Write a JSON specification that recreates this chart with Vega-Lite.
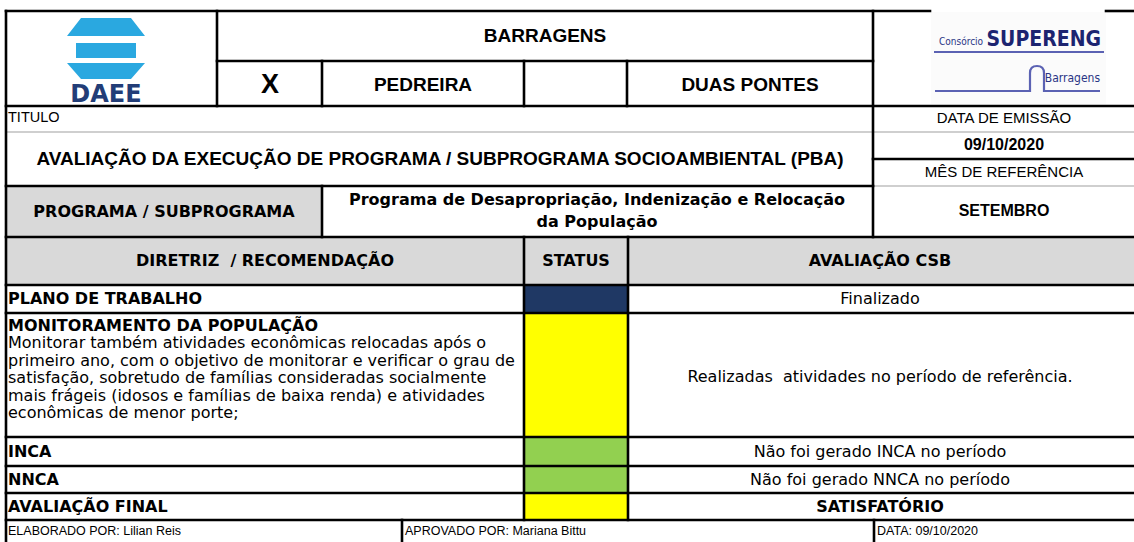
{
  "$schema": "https://vega.github.io/schema/vega-lite/v6.json",
  "width": 1134,
  "height": 542,
  "padding": 0,
  "autosize": {"type": "none"},
  "background": "white",
  "config": {"view": {"stroke": null}},
  "datasets": {
    "fills": [
      {"kind": "logo", "x": 931, "x2": 1106, "y": 12, "y2": 104},
      {"kind": "cabecalho", "x": 6, "x2": 322, "y": 186, "y2": 237},
      {"kind": "cabecalho", "x": 6, "x2": 1134, "y": 237, "y2": 285},
      {"kind": "finalizado", "x": 524, "x2": 628, "y": 285, "y2": 313},
      {"kind": "em andamento", "x": 524, "x2": 628, "y": 313, "y2": 437},
      {"kind": "sem ocorrência", "x": 524, "x2": 628, "y": 437, "y2": 466},
      {"kind": "sem ocorrência", "x": 524, "x2": 628, "y": 466, "y2": 493},
      {"kind": "em andamento", "x": 524, "x2": 628, "y": 493, "y2": 520}
    ],
    "grayLines": [
      {"x": 6, "x2": 1134, "y": 132, "y2": 132},
      {"x": 873, "x2": 1134, "y": 186, "y2": 186}
    ],
    "lines": [
      {"x": 6, "x2": 930, "y": 11, "y2": 11},
      {"x": 1106, "x2": 1134, "y": 11, "y2": 11},
      {"x": 217, "x2": 873, "y": 61, "y2": 61},
      {"x": 6, "x2": 1134, "y": 106, "y2": 106},
      {"x": 873, "x2": 1134, "y": 159, "y2": 159},
      {"x": 6, "x2": 873, "y": 186, "y2": 186},
      {"x": 6, "x2": 1134, "y": 237, "y2": 237},
      {"x": 6, "x2": 1134, "y": 285, "y2": 285},
      {"x": 6, "x2": 1134, "y": 313, "y2": 313},
      {"x": 6, "x2": 1134, "y": 437, "y2": 437},
      {"x": 6, "x2": 1134, "y": 466, "y2": 466},
      {"x": 6, "x2": 1134, "y": 493, "y2": 493},
      {"x": 6, "x2": 1134, "y": 520, "y2": 520},
      {"x": 6, "x2": 6, "y": 11, "y2": 542},
      {"x": 217, "x2": 217, "y": 11, "y2": 106},
      {"x": 322, "x2": 322, "y": 61, "y2": 106},
      {"x": 524, "x2": 524, "y": 61, "y2": 106},
      {"x": 627, "x2": 627, "y": 61, "y2": 106},
      {"x": 873, "x2": 873, "y": 11, "y2": 237},
      {"x": 322, "x2": 322, "y": 186, "y2": 237},
      {"x": 524, "x2": 524, "y": 237, "y2": 520},
      {"x": 628, "x2": 628, "y": 237, "y2": 520},
      {"x": 402, "x2": 402, "y": 520, "y2": 542},
      {"x": 874, "x2": 874, "y": 520, "y2": 542}
    ],
    "texts": [
      {"role": "hb", "text": "BARRAGENS", "x": 545, "y": 36},
      {"role": "hb", "text": "PEDREIRA", "x": 423, "y": 85},
      {"role": "hb", "text": "DUAS PONTES", "x": 750, "y": 85},
      {"role": "hx", "text": "X", "x": 270, "y": 85},
      {"role": "hb", "text": "AVALIAÇÃO DA EXECUÇÃO DE PROGRAMA / SUBPROGRAMA SOCIOAMBIENTAL (PBA)", "x": 440, "y": 159},
      {"role": "sl", "text": "TITULO", "x": 8, "y": 118},
      {"role": "sc", "text": "DATA DE EMISSÃO", "x": 1004, "y": 118},
      {"role": "sb", "text": "09/10/2020", "x": 1004, "y": 145},
      {"role": "sc", "text": "MÊS DE REFERÊNCIA", "x": 1004, "y": 172},
      {"role": "sb", "text": "SETEMBRO", "x": 1004, "y": 211},
      {"role": "tb", "text": "PROGRAMA / SUBPROGRAMA", "x": 164, "y": 211.5},
      {"role": "tb", "text": "Programa de Desapropriação, Indenização e Relocação", "x": 597, "y": 200},
      {"role": "tb", "text": "da População", "x": 597, "y": 221.5},
      {"role": "tb", "text": "DIRETRIZ \u00a0/ RECOMENDAÇÃO", "x": 265, "y": 261},
      {"role": "tb", "text": "STATUS", "x": 576, "y": 261},
      {"role": "tb", "text": "AVALIAÇÃO CSB", "x": 880, "y": 261},
      {"role": "tbl", "text": "PLANO DE TRABALHO", "x": 8, "y": 299},
      {"role": "tn", "text": "Finalizado", "x": 880, "y": 299},
      {"role": "tbl", "text": "MONITORAMENTO DA POPULAÇÃO", "x": 8, "y": 326},
      {"role": "tnl", "text": "Monitorar também atividades econômicas relocadas após o", "x": 8, "y": 343.4},
      {"role": "tnl", "text": "primeiro ano, com o objetivo de monitorar e verificar o grau de", "x": 8, "y": 360.8},
      {"role": "tnl", "text": "satisfação, sobretudo de famílias consideradas socialmente", "x": 8, "y": 378.2},
      {"role": "tnl", "text": "mais frágeis (idosos e famílias de baixa renda) e atividades", "x": 8, "y": 395.6},
      {"role": "tnl", "text": "econômicas de menor porte;", "x": 8, "y": 413},
      {"role": "tn", "text": "Realizadas \u00a0atividades no período de referência.", "x": 880, "y": 377},
      {"role": "tbl", "text": "INCA", "x": 8, "y": 451.5},
      {"role": "tn", "text": "Não foi gerado INCA no período", "x": 880, "y": 451.5},
      {"role": "tbl", "text": "NNCA", "x": 8, "y": 479.5},
      {"role": "tn", "text": "Não foi gerado NNCA no período", "x": 880, "y": 479.5},
      {"role": "tbl", "text": "AVALIAÇÃO FINAL", "x": 8, "y": 506.5},
      {"role": "tb", "text": "SATISFATÓRIO", "x": 880, "y": 506.5},
      {"role": "ft", "text": "ELABORADO POR: Lilian Reis", "x": 8, "y": 531},
      {"role": "ft", "text": "APROVADO POR: Mariana Bittu", "x": 405, "y": 531},
      {"role": "ft", "text": "DATA: 09/10/2020", "x": 877, "y": 531}
    ]
  },
  "encoding": {
    "x": {"field": "x", "type": "quantitative", "scale": {"domain": [0, 1134], "nice": false, "zero": false}, "axis": null},
    "y": {"field": "y", "type": "quantitative", "scale": {"domain": [0, 542], "nice": false, "zero": false, "reverse": true}, "axis": null}
  },
  "layer": [
    {
      "data": {"name": "fills"},
      "mark": {"type": "rect", "strokeWidth": 0},
      "encoding": {
        "x2": {"field": "x2"},
        "y2": {"field": "y2"},
        "color": {"field": "kind", "type": "nominal", "legend": null,
          "scale": {"domain": ["logo", "cabecalho", "finalizado", "em andamento", "sem ocorrência"], "range": ["#fbfbfb", "#d9d9d9", "#1f3864", "#ffff00", "#92d050"]}}
      }
    },
    {
      "data": {"name": "grayLines"},
      "mark": {"type": "rule", "strokeWidth": 2, "color": "#cfcfcf"},
      "encoding": {"x2": {"field": "x2"}, "y2": {"field": "y2"}}
    },
    {
      "data": {"name": "lines"},
      "mark": {"type": "rule", "strokeWidth": 2.6, "color": "#000000", "strokeCap": "square"},
      "encoding": {"x2": {"field": "x2"}, "y2": {"field": "y2"}}
    },
    {
      "data": {"values": [{"logo": "DAEE", "x": 106, "y": 48}]},
      "mark": {"type": "point", "filled": true, "opacity": 1, "color": "#2aa8e0", "strokeWidth": 0, "size": 6084,
        "shape": "M-0.641,-0.769L0.641,-0.769L1,-0.308L-1,-0.308Z M-0.769,-0.128L0.769,-0.128L0.769,0.256L-0.769,0.256Z M-1,0.385L1,0.385L0.641,0.795L-0.641,0.795Z"}
    },
    {
      "data": {"values": [{"logo": "DAEE", "x": 106, "y": 95}]},
      "mark": {"type": "text", "text": "DAEE", "font": "DejaVu Sans", "fontWeight": "bold", "fontSize": 24, "color": "#223d77", "align": "center", "baseline": "middle"}
    },
    {
      "data": {"values": [{"logo": "SUPERENG", "x": 1020, "y": 78}]},
      "mark": {"type": "point", "filled": false, "opacity": 1, "color": "#5b62b3", "strokeWidth": 2.2, "size": 40000,
        "shape": "M-0.86,-0.26L0.84,-0.26 M-0.85,0.13L0.1,0.13L0.1,-0.05Q0.1,-0.12 0.17,-0.12Q0.24,-0.12 0.24,-0.05L0.24,0.13L0.8,0.13"}
    },
    {
      "data": {"values": [{"logo": "SUPERENG", "x": 1101, "y": 40}]},
      "mark": {"type": "text", "text": "SUPERENG", "font": "Liberation Sans Narrow, DejaVu Sans Condensed", "fontWeight": "bold", "fontSize": 21, "color": "#1c2470", "align": "right", "baseline": "middle"}
    },
    {
      "data": {"values": [{"logo": "Consórcio", "x": 939, "y": 42}]},
      "mark": {"type": "text", "text": "Consórcio", "font": "Liberation Sans Narrow, DejaVu Sans Condensed", "fontSize": 10, "color": "#2a3585", "align": "left", "baseline": "middle"}
    },
    {
      "data": {"values": [{"logo": "Barragens", "x": 1100, "y": 78}]},
      "mark": {"type": "text", "text": "Barragens", "font": "Liberation Sans Narrow, DejaVu Sans Condensed", "fontSize": 12, "color": "#2a3585", "align": "right", "baseline": "middle"}
    },
    {
      "data": {"name": "texts"},
      "transform": [{"filter": "datum.role === 'hb'"}],
      "mark": {"type": "text", "font": "Liberation Sans", "fontWeight": "bold", "fontSize": 19, "color": "#000", "align": "center", "baseline": "middle"},
      "encoding": {"text": {"field": "text"}}
    },
    {
      "data": {"name": "texts"},
      "transform": [{"filter": "datum.role === 'hx'"}],
      "mark": {"type": "text", "font": "Liberation Sans", "fontWeight": "bold", "fontSize": 27, "color": "#000", "align": "center", "baseline": "middle"},
      "encoding": {"text": {"field": "text"}}
    },
    {
      "data": {"name": "texts"},
      "transform": [{"filter": "datum.role === 'sl'"}],
      "mark": {"type": "text", "font": "Liberation Sans", "fontSize": 14.5, "color": "#000", "align": "left", "baseline": "middle"},
      "encoding": {"text": {"field": "text"}}
    },
    {
      "data": {"name": "texts"},
      "transform": [{"filter": "datum.role === 'sc'"}],
      "mark": {"type": "text", "font": "Liberation Sans", "fontSize": 15, "color": "#000", "align": "center", "baseline": "middle"},
      "encoding": {"text": {"field": "text"}}
    },
    {
      "data": {"name": "texts"},
      "transform": [{"filter": "datum.role === 'sb'"}],
      "mark": {"type": "text", "font": "Liberation Sans", "fontWeight": "bold", "fontSize": 16, "color": "#000", "align": "center", "baseline": "middle"},
      "encoding": {"text": {"field": "text"}}
    },
    {
      "data": {"name": "texts"},
      "transform": [{"filter": "datum.role === 'tb'"}],
      "mark": {"type": "text", "font": "DejaVu Sans", "fontWeight": "bold", "fontSize": 16, "color": "#000", "align": "center", "baseline": "middle"},
      "encoding": {"text": {"field": "text"}}
    },
    {
      "data": {"name": "texts"},
      "transform": [{"filter": "datum.role === 'tbl'"}],
      "mark": {"type": "text", "font": "DejaVu Sans", "fontWeight": "bold", "fontSize": 16, "color": "#000", "align": "left", "baseline": "middle"},
      "encoding": {"text": {"field": "text"}}
    },
    {
      "data": {"name": "texts"},
      "transform": [{"filter": "datum.role === 'tn'"}],
      "mark": {"type": "text", "font": "DejaVu Sans", "fontSize": 16, "color": "#000", "align": "center", "baseline": "middle"},
      "encoding": {"text": {"field": "text"}}
    },
    {
      "data": {"name": "texts"},
      "transform": [{"filter": "datum.role === 'tnl'"}],
      "mark": {"type": "text", "font": "DejaVu Sans", "fontSize": 16, "color": "#000", "align": "left", "baseline": "middle"},
      "encoding": {"text": {"field": "text"}}
    },
    {
      "data": {"name": "texts"},
      "transform": [{"filter": "datum.role === 'ft'"}],
      "mark": {"type": "text", "font": "Liberation Sans", "fontSize": 12.5, "color": "#000", "align": "left", "baseline": "middle"},
      "encoding": {"text": {"field": "text"}}
    }
  ]
}
